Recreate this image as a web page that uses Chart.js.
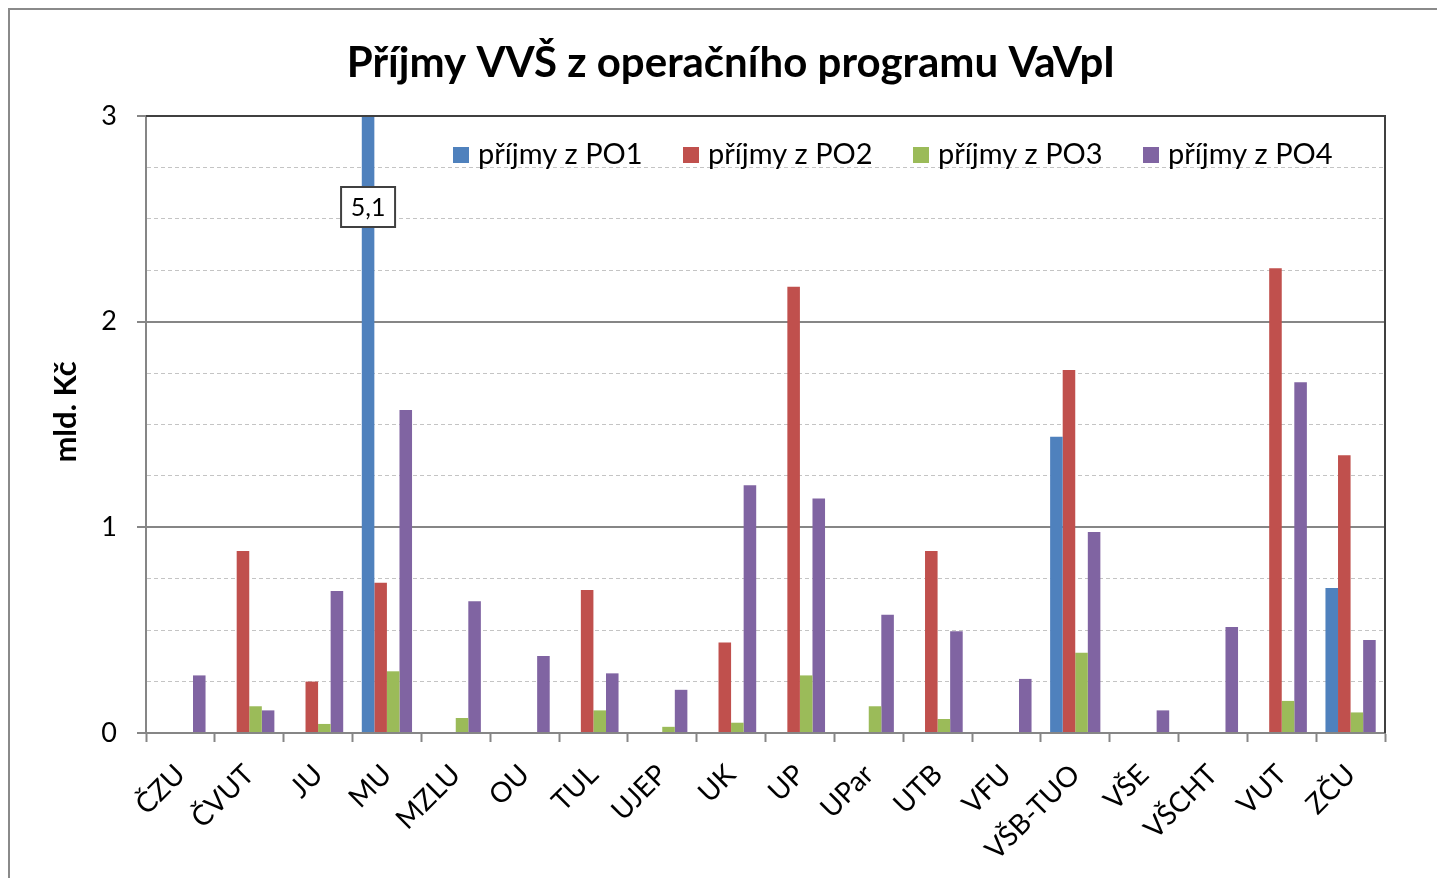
<!DOCTYPE html>
<html>
<head>
<meta charset="utf-8">
<title>Příjmy VVŠ z operačního programu VaVpI</title>
<script src="https://cdn.jsdelivr.net/npm/chart.js@4"></script>
<style>
  html, body { margin: 0; padding: 0; background: #fff; }
  #wrap { width: 1437px; height: 878px; }
</style>
</head>
<body>
<div id="wrap"><canvas id="chart" width="1437" height="878"></canvas></div>
<script>
// data (mld. Kč)
const schools = ['ČZU', 'ČVUT', 'JU', 'MU', 'MZLU', 'OU', 'TUL', 'UJEP', 'UK', 'UP',
                 'UPar', 'UTB', 'VFU', 'VŠB-TUO', 'VŠE', 'VŠCHT', 'VUT', 'ZČU'];
const po1 = [0, 0, 0, 5.1, 0, 0, 0, 0, 0, 0, 0, 0, 0, 1.44, 0, 0, 0, 0.705];
const po2 = [0, 0.885, 0.25, 0.73, 0, 0, 0.695, 0, 0.44, 2.17, 0, 0.885, 0, 1.765, 0, 0, 2.26, 1.35];
const po3 = [0, 0.13, 0.044, 0.30, 0.073, 0, 0.11, 0.03, 0.05, 0.28, 0.13, 0.068, 0, 0.39, 0, 0, 0.156, 0.10];
const po4 = [0.28, 0.11, 0.69, 1.57, 0.64, 0.375, 0.29, 0.21, 1.205, 1.14, 0.575, 0.495, 0.263, 0.977, 0.11, 0.515, 1.706, 0.452];
const seriesNames = ['příjmy z PO1', 'příjmy z PO2', 'příjmy z PO3', 'příjmy z PO4'];
const seriesColors = ['#4F81BD', '#C0504D', '#9BBB59', '#8064A2'];
const yTicks = [0, 1, 2, 3];
const yMax = 3;

const FONT = 'Lato, "Open Sans", sans-serif';

function ds(i, data) {
    return {
        label: seriesNames[i],
        data: data,
        backgroundColor: seriesColors[i],
        borderWidth: 0,
        categoryPercentage: 0.73,
        barPercentage: 1.0
    };
}

// title, y label, legend, clipped value label, frame
const decorations = {
    id: 'decorations',
    afterDraw(chart) {
        const c = chart.ctx;
        const area = chart.chartArea;
        c.save();

        // outer frame
        c.strokeStyle = '#8a8a8a';
        c.lineWidth = 2;
        c.beginPath();
        c.moveTo(1445, 9);
        c.lineTo(9, 9);
        c.lineTo(9, 890);
        c.stroke();

        // plot frame top/right
        c.strokeStyle = '#404040';
        c.lineWidth = 2;
        c.beginPath();
        c.moveTo(area.left, area.top);
        c.lineTo(area.right, area.top);
        c.lineTo(area.right, area.bottom);
        c.stroke();

        // title
        c.fillStyle = '#000';
        c.font = 'bold 42px ' + FONT;
        c.textAlign = 'center';
        c.textBaseline = 'middle';
        c.fillText('Příjmy VVŠ z operačního programu VaVpI', 731, 63);

        // y axis title
        c.save();
        c.translate(66, 412);
        c.rotate(-Math.PI / 2);
        c.font = 'bold 31px ' + FONT;
        c.fillText('mld. Kč', 0, 0);
        c.restore();

        // legend inside plot
        c.font = '29px ' + FONT;
        c.textAlign = 'left';
        c.textBaseline = 'middle';
        let x = 453;
        const ly = 155;
        seriesNames.forEach((name, i) => {
            c.fillStyle = seriesColors[i];
            c.fillRect(x, ly - 8, 16, 16);
            c.fillStyle = '#000';
            c.fillText(name, x + 25, ly);
            x += 230;
        });

        // label for the clipped MU bar
        const meta = chart.getDatasetMeta(0);
        schools.forEach((s, idx) => {
            if (po1[idx] > yMax) {
                const bar = meta.data[idx];
                const txt = String(po1[idx]).replace('.', ',');
                const bx = bar.x, by = 207;
                c.fillStyle = '#fff';
                c.fillRect(bx - 27, by - 20, 54, 40);
                c.strokeStyle = '#404040';
                c.lineWidth = 2;
                c.strokeRect(bx - 27, by - 20, 54, 40);
                c.fillStyle = '#000';
                c.font = '25px ' + FONT;
                c.textAlign = 'center';
                c.fillText(txt, bx, by + 1);
            }
        });
        c.restore();
    }
};

new Chart(document.getElementById('chart'), {
    type: 'bar',
    data: {
        labels: schools,
        datasets: [ds(0, po1), ds(1, po2), ds(2, po3), ds(3, po4)]
    },
    options: {
        responsive: false,
        animation: false,
        layout: { padding: { left: 0, top: 116, right: 52, bottom: 0 } },
        plugins: {
            legend: { display: false },
            title: { display: false },
            tooltip: { enabled: false }
        },
        scales: {
            x: {
                grid: {
                    display: true,
                    drawOnChartArea: false,
                    offset: true,
                    tickLength: 9,
                    tickColor: '#868686',
                    tickWidth: 2
                },
                border: { display: true, color: '#868686', width: 2 },
                ticks: {
                    color: '#000',
                    font: { family: FONT, size: 28 },
                    maxRotation: 45,
                    minRotation: 45,
                    padding: 16,
                    autoSkip: false
                },
                afterFit(scale) { scale.height = 145; }
            },
            y: {
                min: 0,
                max: yMax,
                afterBuildTicks(scale) {
                    const t = [];
                    for (let v = 0; v <= yMax + 1e-9; v += 0.25) t.push({ value: Math.round(v * 100) / 100 });
                    scale.ticks = t;
                },
                grid: {
                    color: ctx => {
                        const v = ctx.tick ? ctx.tick.value : 0;
                        if (v === yMax) return '#404040';
                        return yTicks.includes(v) ? '#868686' : '#c4c4c4';
                    },
                    lineWidth: ctx => (ctx.tick && yTicks.includes(ctx.tick.value)) ? 2 : 1,
                    tickLength: 9,
                    tickColor: ctx => (ctx.tick && yTicks.includes(ctx.tick.value)) ? '#868686' : 'rgba(0,0,0,0)',
                    tickWidth: 2
                },
                border: {
                    display: true,
                    color: '#868686',
                    width: 2,
                    dash: ctx => (ctx.tick && !yTicks.includes(ctx.tick.value)) ? [4, 3] : []
                },
                ticks: {
                    color: '#000',
                    font: { family: FONT, size: 27 },
                    padding: 20,
                    callback: v => yTicks.includes(v) ? String(v) : ''
                },
                afterFit(scale) { scale.width = 146; }
            }
        }
    },
    plugins: [decorations]
});
</script>
</body>
</html>
